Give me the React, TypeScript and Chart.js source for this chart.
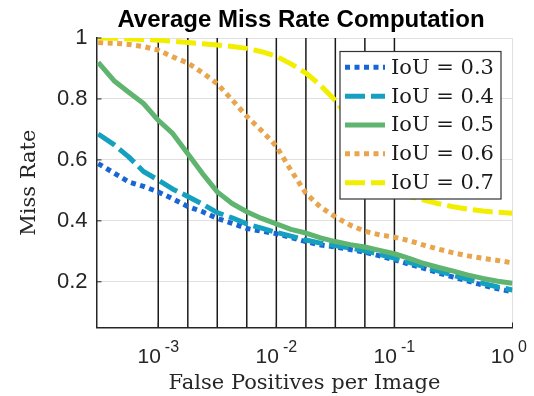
import { useEffect, useRef } from 'react';
import { Chart, registerables } from 'chart.js';

Chart.register(...registerables);

const titleText = 'Average Miss Rate Computation';
const xTitle = 'False Positives per Image';
const yTitle = 'Miss Rate';

const fppi = [0.00031, 0.000422, 0.000562, 0.00075, 0.001, 0.00133, 0.00178, 0.00237, 0.00316, 0.00422, 0.00562, 0.0075, 0.01, 0.0133, 0.0178, 0.0237, 0.0316, 0.0422, 0.0562, 0.075, 0.1, 0.133, 0.178, 0.237, 0.316, 0.422, 0.562, 0.75, 1];

const iou03 = [0.588, 0.557, 0.528, 0.513, 0.495, 0.472, 0.447, 0.43, 0.408, 0.392, 0.375, 0.366, 0.358, 0.345, 0.332, 0.321, 0.314, 0.306, 0.297, 0.285, 0.272, 0.258, 0.244, 0.229, 0.215, 0.202, 0.189, 0.177, 0.167];
const iou04 = [0.685, 0.65, 0.61, 0.562, 0.534, 0.504, 0.48, 0.455, 0.427, 0.41, 0.39, 0.376, 0.362, 0.35, 0.337, 0.327, 0.319, 0.311, 0.302, 0.29, 0.278, 0.264, 0.25, 0.235, 0.221, 0.208, 0.195, 0.183, 0.173];
const iou05 = [0.92, 0.86, 0.822, 0.785, 0.73, 0.686, 0.62, 0.555, 0.495, 0.457, 0.43, 0.408, 0.39, 0.372, 0.36, 0.344, 0.332, 0.322, 0.314, 0.303, 0.292, 0.277, 0.26, 0.247, 0.235, 0.222, 0.211, 0.202, 0.195];
const iou06 = [0.985, 0.983, 0.979, 0.972, 0.96, 0.938, 0.918, 0.886, 0.85, 0.797, 0.743, 0.696, 0.645, 0.566, 0.49, 0.445, 0.413, 0.386, 0.366, 0.354, 0.346, 0.335, 0.32, 0.307, 0.295, 0.285, 0.277, 0.27, 0.262];
const iou07 = [1.0, 0.999, 0.997, 0.995, 0.993, 0.989, 0.985, 0.981, 0.977, 0.972, 0.966, 0.955, 0.94, 0.915, 0.885, 0.845, 0.795, 0.73, 0.64, 0.56, 0.51, 0.48, 0.468, 0.456, 0.446, 0.438, 0.432, 0.428, 0.425];

const seriesLabels = ['IoU = 0.3', 'IoU = 0.4', 'IoU = 0.5', 'IoU = 0.6', 'IoU = 0.7'];
const seriesColors = ['#1766d3', '#15a0c0', '#5fb46f', '#e8a54c', '#f2ee00'];

const refFppi = [0.001, 0.00178, 0.00316, 0.00562, 0.01, 0.0178, 0.0316, 0.0562, 0.1];

const xTickValues = [0.001, 0.01, 0.1, 1];
const xTickExponents = ['-3', '-2', '-1', '0'];
const yTickValues = [0.2, 0.4, 0.6, 0.8, 1];

const X_MIN = 0.00031;
const X_MAX = 1;
const Y_MIN = 0.05;
const Y_MAX = 1;

const SANS = '"Liberation Sans", Arial, Helvetica, sans-serif';
const SERIF = '"DejaVu Serif", serif';

const overlayPlugin = {
  id: 'overlay',
  afterDraw(chart: any) {
    const ctx = chart.ctx;
    const xs = chart.scales.x;
    const ys = chart.scales.y;
    const area = chart.chartArea;
    ctx.save();

    // inward tick marks
    ctx.strokeStyle = '#262626';
    ctx.lineWidth = 1;
    ctx.setLineDash([]);
    yTickValues.forEach((v) => {
      const p = ys.getPixelForValue(v);
      ctx.beginPath();
      ctx.moveTo(area.left, p);
      ctx.lineTo(area.left + 5, p);
      ctx.stroke();
    });
    xTickValues.forEach((v) => {
      const p = xs.getPixelForValue(v);
      ctx.beginPath();
      ctx.moveTo(p, area.bottom);
      ctx.lineTo(p, area.bottom - 5);
      ctx.stroke();
    });

    // title
    ctx.fillStyle = '#000';
    ctx.font = 'bold 24px ' + SANS;
    ctx.textAlign = 'center';
    ctx.textBaseline = 'alphabetic';
    ctx.fillText(titleText, 301, 27);

    // x tick labels with superscript exponent
    ctx.fillStyle = '#262626';
    ctx.textAlign = 'left';
    xTickValues.forEach((v, i) => {
      const p = xs.getPixelForValue(v);
      const gap = 4;
      ctx.font = '21px ' + SANS;
      const wBase = ctx.measureText('10').width;
      ctx.font = '16px ' + SANS;
      const wExp = ctx.measureText(xTickExponents[i]).width;
      const total = wBase + gap + wExp;
      let start = p - total / 2;
      if (start + total > 527) start = 527 - total;
      ctx.font = '21px ' + SANS;
      ctx.fillText('10', start, 363);
      ctx.font = '16px ' + SANS;
      ctx.fillText(xTickExponents[i], start + wBase + gap, 352);
    });

    // legend
    const bx = 340, by = 51.5, bw = 161, bh = 147.5;
    ctx.fillStyle = '#ffffff';
    ctx.fillRect(bx, by, bw, bh);
    ctx.strokeStyle = '#333333';
    ctx.lineWidth = 1.2;
    ctx.strokeRect(bx, by, bw, bh);
    const series = chart.data.datasets.filter((d: any) => !d.isRef);
    series.forEach((d: any, i: number) => {
      const y = 67.3 + i * 28.85;
      ctx.save();
      ctx.strokeStyle = d.borderColor;
      ctx.lineWidth = d.borderWidth;
      ctx.setLineDash(d.borderDash || []);
      ctx.lineCap = 'butt';
      ctx.beginPath();
      ctx.moveTo(345, y);
      ctx.lineTo(385, y);
      ctx.stroke();
      ctx.restore();
      ctx.fillStyle = '#1a1a1a';
      ctx.font = '21px ' + SERIF;
      ctx.textAlign = 'left';
      ctx.textBaseline = 'middle';
      ctx.fillText(d.label, 391, y + 1);
    });

    ctx.restore();
  },
};

export default function App() {
  const canvasRef = useRef<HTMLCanvasElement | null>(null);

  useEffect(() => {
    if (!canvasRef.current) return;
    const dashes = [[5, 4.5], [20, 6], [], [5, 4.5], [20, 6]];
    const seriesData = [iou03, iou04, iou05, iou06, iou07];
    const seriesSets = seriesData.map((arr, i) => ({
      label: seriesLabels[i],
      data: fppi.map((x, j) => ({ x, y: arr[j] })),
      borderColor: seriesColors[i],
      backgroundColor: seriesColors[i],
      borderWidth: 5,
      borderDash: dashes[i],
      borderCapStyle: 'butt',
      borderJoinStyle: 'round',
      pointRadius: 0,
      tension: 0,
      fill: false,
      order: 5 - i,
    }));
    const refSets = refFppi.map((r) => ({
      label: '',
      isRef: true,
      data: [{ x: r, y: Y_MIN }, { x: r, y: Y_MAX }],
      borderColor: '#1a1a1a',
      borderWidth: 1.5,
      pointRadius: 0,
      fill: false,
      order: 20,
    }));

    const chart = new Chart(canvasRef.current, {
      type: 'line',
      data: { datasets: [...seriesSets, ...refSets] as any },
      options: {
        responsive: false,
        animation: false,
        devicePixelRatio: 1,
        layout: { padding: { top: 38, right: 21.5, left: 0, bottom: 0 } },
        plugins: {
          legend: { display: false },
          tooltip: { enabled: false },
          title: { display: false },
        },
        scales: {
          x: {
            type: 'logarithmic',
            min: X_MIN,
            max: X_MAX,
            position: 'bottom',
            afterBuildTicks: (s: any) => {
              s.ticks = xTickValues.map((v) => ({ value: v }));
            },
            afterFit: (s: any) => {
              s.height = 68.5;
            },
            grid: { color: '#e0e0e0', lineWidth: 1, drawTicks: false },
            border: { color: '#262626', width: 1.5 },
            ticks: { display: false },
            title: {
              display: true,
              text: xTitle,
              color: '#262626',
              font: { family: SERIF, size: 21, lineHeight: 1 },
              padding: { top: 0, bottom: 1.5 },
            },
          },
          y: {
            type: 'linear',
            min: Y_MIN,
            max: Y_MAX,
            position: 'left',
            afterBuildTicks: (s: any) => {
              s.ticks = yTickValues.map((v) => ({ value: v }));
            },
            afterFit: (s: any) => {
              s.width = 96.5;
            },
            grid: { color: '#e0e0e0', lineWidth: 1, drawTicks: false },
            border: { color: '#262626', width: 1.5 },
            ticks: {
              color: '#262626',
              padding: 9,
              font: { family: SANS, size: 22 },
              callback: (v: any) => (v === 1 ? '1' : Number(v).toFixed(1)),
            },
            title: {
              display: true,
              text: yTitle,
              color: '#262626',
              font: { family: SERIF, size: 21, lineHeight: 1.2 },
              padding: { top: 17, bottom: 0 },
            },
          },
        },
      } as any,
      plugins: [overlayPlugin],
    });
    return () => chart.destroy();
  }, []);

  return (
    <div style={{ position: 'absolute', left: 0, top: 0, width: 534, height: 396, background: '#fff' }}>
      <canvas ref={canvasRef} width={534} height={396} style={{ display: 'block' }} />
    </div>
  );
}
